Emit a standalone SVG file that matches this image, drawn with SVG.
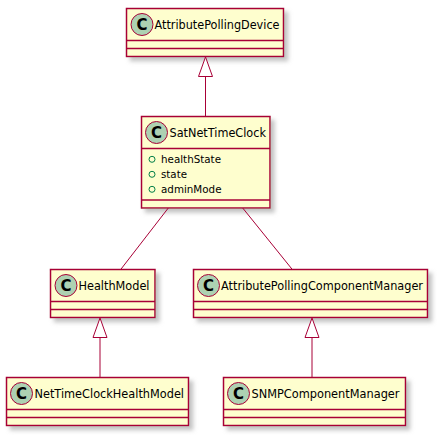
<svg xmlns="http://www.w3.org/2000/svg" width="437" height="435" viewBox="0 0 437 435">
<defs>
<filter id="sh" x="-10%" y="-10%" width="130%" height="140%">
<feGaussianBlur in="SourceAlpha" stdDeviation="2"/>
<feOffset dx="4" dy="4" result="b"/>
<feColorMatrix in="b" type="matrix" values="0 0 0 0 0.4  0 0 0 0 0.4  0 0 0 0 0.4  0 0 0 0.7 0" result="c"/>
<feMerge><feMergeNode in="c"/><feMergeNode in="SourceGraphic"/></feMerge>
</filter>
</defs>
<style>
.box{fill:#FEFECE;stroke:#A80036;stroke-width:1.5}
.sep{stroke:#A80036;stroke-width:1.5}
.ci{fill:#ADD1B2;stroke:#A80036;stroke-width:1}
.cl{font-family:"DejaVu Sans",sans-serif;font-size:15px;font-weight:bold;fill:#000;text-anchor:middle}
.nm{font-family:"DejaVu Sans",sans-serif;font-size:12px;fill:#000}
.at{font-family:"DejaVu Sans",sans-serif;font-size:11px;fill:#000}
.ai{fill:none;stroke:#038048;stroke-width:1}
.ln{stroke:#A80036;stroke-width:1;fill:none}
.tri{stroke:#A80036;stroke-width:1;fill:#FFFFFF}
</style>
<rect width="437" height="435" fill="#FFFFFF"/>
<g id="AttributePollingDevice">
<rect class="box" x="126.5" y="8.5" width="157" height="48" filter="url(#sh)"/>
<line class="sep" x1="126.5" y1="40.5" x2="283.5" y2="40.5"/>
<line class="sep" x1="126.5" y1="48.5" x2="283.5" y2="48.5"/>
<circle class="ci" cx="142" cy="24.5" r="11"/>
<text class="cl" x="142" y="29.8">C</text>
<text class="nm" x="154.5" y="29" textLength="125" lengthAdjust="spacingAndGlyphs">AttributePollingDevice</text>
</g>
<g id="SatNetTimeClock">
<rect class="box" x="141.5" y="116.5" width="128.5" height="91.5" filter="url(#sh)"/>
<line class="sep" x1="141.5" y1="148.5" x2="270" y2="148.5"/>
<line class="sep" x1="141.5" y1="200" x2="270" y2="200"/>
<circle class="ci" cx="156.5" cy="132.5" r="11"/>
<text class="cl" x="156.5" y="137.8">C</text>
<text class="nm" x="169.5" y="137" textLength="96.5" lengthAdjust="spacingAndGlyphs">SatNetTimeClock</text>
<circle class="ai" cx="152" cy="159.3" r="3"/>
<text class="at" x="161" y="163.3" textLength="60" lengthAdjust="spacingAndGlyphs">healthState</text>
<circle class="ai" cx="152" cy="174.3" r="3"/>
<text class="at" x="161" y="178.3" textLength="26" lengthAdjust="spacingAndGlyphs">state</text>
<circle class="ai" cx="152" cy="189.3" r="3"/>
<text class="at" x="161" y="193.3" textLength="60.5" lengthAdjust="spacingAndGlyphs">adminMode</text>
</g>
<g id="HealthModel">
<rect class="box" x="50.5" y="269.5" width="104.5" height="48" filter="url(#sh)"/>
<line class="sep" x1="50.5" y1="301.5" x2="155" y2="301.5"/>
<line class="sep" x1="50.5" y1="309.5" x2="155" y2="309.5"/>
<circle class="ci" cx="66" cy="285.5" r="11"/>
<text class="cl" x="66" y="290.8">C</text>
<text class="nm" x="78.5" y="290" textLength="71" lengthAdjust="spacingAndGlyphs">HealthModel</text>
</g>
<g id="NetTimeClockHealthModel">
<rect class="box" x="6.5" y="377.5" width="182" height="48" filter="url(#sh)"/>
<line class="sep" x1="6.5" y1="409.5" x2="188.5" y2="409.5"/>
<line class="sep" x1="6.5" y1="417.5" x2="188.5" y2="417.5"/>
<circle class="ci" cx="21.5" cy="393.5" r="11"/>
<text class="cl" x="21.5" y="398.8">C</text>
<text class="nm" x="34.5" y="398" textLength="149.5" lengthAdjust="spacingAndGlyphs">NetTimeClockHealthModel</text>
</g>
<g id="AttributePollingComponentManager">
<rect class="box" x="193.5" y="269.5" width="234" height="48" filter="url(#sh)"/>
<line class="sep" x1="193.5" y1="301.5" x2="427.5" y2="301.5"/>
<line class="sep" x1="193.5" y1="309.5" x2="427.5" y2="309.5"/>
<circle class="ci" cx="208.5" cy="285.5" r="11"/>
<text class="cl" x="208.5" y="290.8">C</text>
<text class="nm" x="221" y="290" textLength="202" lengthAdjust="spacingAndGlyphs">AttributePollingComponentManager</text>
</g>
<g id="SNMPComponentManager">
<rect class="box" x="223.5" y="377.5" width="182" height="48" filter="url(#sh)"/>
<line class="sep" x1="223.5" y1="409.5" x2="405.5" y2="409.5"/>
<line class="sep" x1="223.5" y1="417.5" x2="405.5" y2="417.5"/>
<circle class="ci" cx="238.5" cy="393.5" r="11"/>
<text class="cl" x="238.5" y="398.8">C</text>
<text class="nm" x="251.5" y="398" textLength="148" lengthAdjust="spacingAndGlyphs">SNMPComponentManager</text>
</g>
<g id="connectors">
<line class="ln" x1="205.5" y1="76.5" x2="205.5" y2="116.5"/>
<polygon class="tri" points="205.5,57 198.5,76.5 212.5,76.5"/>
<line class="ln" x1="168.3" y1="208" x2="120.7" y2="269.5"/>
<line class="ln" x1="242.7" y1="208" x2="292.3" y2="269.5"/>
<line class="ln" x1="100" y1="337.5" x2="100" y2="377.5"/>
<polygon class="tri" points="100,318 93,337.5 107,337.5"/>
<line class="ln" x1="312" y1="337.5" x2="312" y2="377.5"/>
<polygon class="tri" points="312,318 305,337.5 319,337.5"/>
</g>
</svg>
